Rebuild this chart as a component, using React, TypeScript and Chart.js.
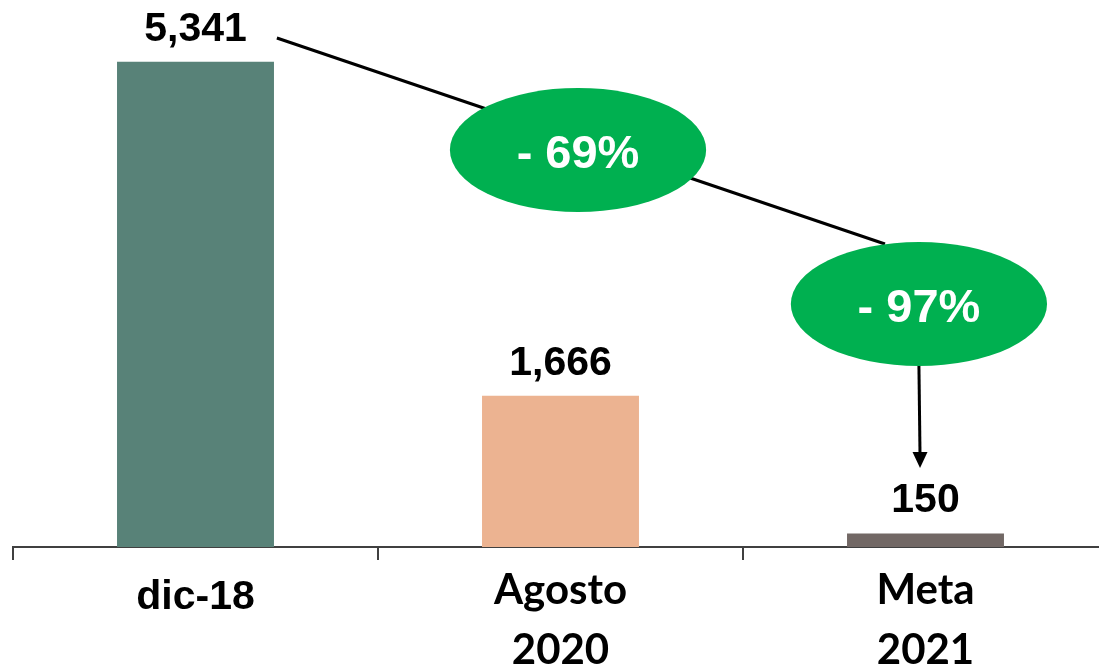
import React, { useEffect, useRef } from 'react';
import { Chart, registerables } from 'chart.js';

Chart.register(...registerables);

// ---- data ----
const categories: string[][] = [['dic-18'], ['Agosto', '2020'], ['Meta', '2021']];
const values: number[] = [5341, 1666, 150];
const barColors: string[] = ['#588278', '#ECB391', '#726865'];
const yMax = 6000;
const changeLabels: string[] = ['- 69%', '- 97%'];
// annotation anchors in data coordinates: [category position, value]
const trendStart: number[] = [0.223, 5604];
const trendEnd: number[] = [1.889, 3336];
const bubbleCenters: number[][] = [[1.048, 4371], [1.982, 2675]];
const bubbleRadius: number[] = [0.351, 683];
const arrowEnd: number[] = [1.985, 870];

const annotations = {
  id: 'annotations',
  afterDatasetsDraw(chart: any) {
    const { ctx } = chart;
    const xs = chart.scales.x;
    const ys = chart.scales.y;
    const px = (v: number) => xs.getPixelForValue(v);
    const py = (v: number) => ys.getPixelForValue(v);

    // value labels above bars
    const meta = chart.getDatasetMeta(0);
    ctx.save();
    ctx.fillStyle = '#000';
    ctx.font = 'bold 41px "Liberation Sans", Arial, sans-serif';
    ctx.textAlign = 'center';
    ctx.textBaseline = 'alphabetic';
    meta.data.forEach((bar: any, i: number) => {
      ctx.fillText(values[i].toLocaleString('en-US'), bar.x, bar.y - 21);
    });
    ctx.restore();

    // trend line
    ctx.save();
    ctx.strokeStyle = '#000';
    ctx.lineWidth = 3;
    ctx.beginPath();
    ctx.moveTo(px(trendStart[0]), py(trendStart[1]));
    ctx.lineTo(px(trendEnd[0]), py(trendEnd[1]));
    ctx.stroke();

    // arrow from second bubble down to the last bar
    const ax0 = px(bubbleCenters[1][0]);
    const ay0 = py(bubbleCenters[1][1] - bubbleRadius[1]);
    const ax1 = px(arrowEnd[0]);
    const ay1 = py(arrowEnd[1]);
    ctx.beginPath();
    ctx.moveTo(ax0, ay0);
    ctx.lineTo(ax1, ay1 - 12);
    ctx.stroke();
    ctx.fillStyle = '#000';
    ctx.beginPath();
    ctx.moveTo(ax1 - 7.5, ay1 - 16);
    ctx.lineTo(ax1 + 7.5, ay1 - 16);
    ctx.lineTo(ax1, ay1);
    ctx.closePath();
    ctx.fill();

    // bubbles
    bubbleCenters.forEach((c, i) => {
      const cx = px(c[0]);
      const cy = py(c[1]);
      const rx = px(c[0] + bubbleRadius[0]) - cx;
      const ry = py(c[1] - bubbleRadius[1]) - cy;
      ctx.fillStyle = '#00B050';
      ctx.beginPath();
      ctx.ellipse(cx, cy, rx, ry, 0, 0, Math.PI * 2);
      ctx.fill();
      ctx.fillStyle = '#fff';
      ctx.font = 'bold 47px "Liberation Sans", Arial, sans-serif';
      ctx.textAlign = 'center';
      ctx.textBaseline = 'alphabetic';
      ctx.fillText(changeLabels[i], cx, cy + 18);
    });
    ctx.restore();
  },
};

export default function App() {
  const ref = useRef<HTMLCanvasElement | null>(null);

  useEffect(() => {
    if (!ref.current) return;
    const chart = new Chart(ref.current, {
      type: 'bar',
      data: {
        labels: categories as any,
        datasets: [
          {
            data: values,
            backgroundColor: barColors,
            barPercentage: 0.43,
            categoryPercentage: 1,
          },
        ],
      },
      options: {
        animation: false,
        responsive: false,
        devicePixelRatio: 1,
        layout: { padding: { left: 13, right: 12, top: 2, bottom: 0 } },
        plugins: { legend: { display: false }, tooltip: { enabled: false } },
        scales: {
          x: {
            grid: {
              offset: true,
              drawOnChartArea: false,
              drawTicks: true,
              tickLength: 13,
              color: '#404040',
              lineWidth: 2,
            },
            border: { display: true, color: '#404040', width: 2 },
            ticks: {
              color: '#000',
              padding: 0,
              maxRotation: 0,
              autoSkip: false,
              font: (c: any) =>
                c.index === 0
                  ? { family: '"Liberation Sans", Arial, sans-serif', size: 41, weight: 'bold', lineHeight: 1.82 }
                  : { family: 'Lato, sans-serif', size: 42, weight: 'bold', lineHeight: 1.43 },
            },
            afterFit: (s: any) => {
              s.height = 119;
            },
          },
          y: { display: false, min: 0, max: yMax },
        },
      } as any,
      plugins: [annotations],
    });
    return () => chart.destroy();
  }, []);

  return (
    <div style={{ position: 'absolute', left: 0, top: 0, width: 1099, height: 666, overflow: 'hidden', background: '#fff' }}>
      <canvas ref={ref} width={1120} height={666} style={{ display: 'block', width: 1120, height: 666 }} />
    </div>
  );
}
